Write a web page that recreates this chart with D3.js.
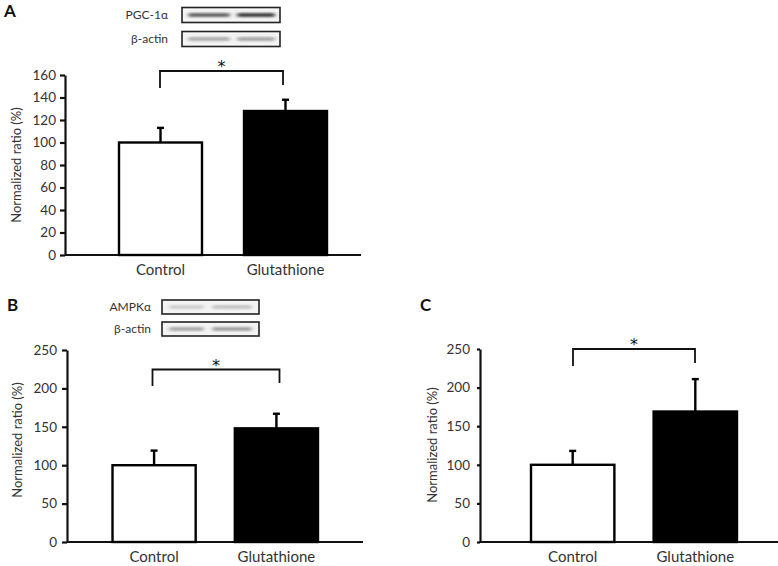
<!DOCTYPE html>
<html><head><meta charset="utf-8">
<script src="https://cdn.jsdelivr.net/npm/d3@7"></script>
<style>body{margin:0;background:#fff}svg{display:block}</style>
</head><body>
<svg id="c" width="778" height="566"></svg>
<script>
const categories = ["Control", "Glutathione"];
const valuesA = [100, 128];
const errorsA = [13, 10];
const ticksA = [0, 20, 40, 60, 80, 100, 120, 140, 160];
const valuesB = [100, 148];
const errorsB = [19, 19];
const ticksB = [0, 50, 100, 150, 200, 250];
const valuesC = [100, 169];
const errorsC = [18, 42];
const ticksC = [0, 50, 100, 150, 200, 250];
const blotLabelsA = ["PGC-1α", "β-actin"];
const blotBandsA = [[0.62, 0.8], [0.3, 0.33]];
const blotLabelsB = ["AMPKα", "β-actin"];
const blotBandsB = [[0.15, 0.2], [0.32, 0.35]];
const yTitle = "Normalized ratio (%)";

const svg = d3.select("#c");
const FONT = "Lato, 'Open Sans', sans-serif";
const defs = svg.append("defs");
defs.append("filter").attr("id","blur").attr("x","-30%").attr("y","-200%").attr("width","160%").attr("height","500%")
  .append("feGaussianBlur").attr("stdDeviation","2.2 1.0");

function panel(o) {
  const g = svg.append("g");
  const y = d3.scaleLinear().domain([0, o.ticks[o.ticks.length-1]]).range([o.y0, o.y1]);
  const x = d3.scaleBand().domain(categories).range(o.barRange).paddingInner(o.pad).paddingOuter(0);
  g.append("text").attr("x", o.letter[0]).attr("y", o.letter[1]).text(o.letterText)
    .attr("font-family", FONT).attr("font-weight", "bold").attr("font-size", 17).attr("fill", "#111");
  const ax = g.append("g").attr("transform", `translate(${o.axisX},0)`)
    .call(d3.axisLeft(y).tickValues(o.ticks).tickSize(o.tickLen).tickSizeOuter(0).tickPadding(o.tickPad));
  ax.select(".domain").attr("stroke", "#111").attr("stroke-width", 2.2);
  ax.selectAll(".tick line").attr("stroke", "#111").attr("stroke-width", 2.2);
  ax.selectAll(".tick text").attr("font-family", FONT).attr("font-size", 13.5).attr("fill", "#333");
  g.append("line").attr("x1", o.axisX).attr("x2", o.baseEnd).attr("y1", y(0)).attr("y2", y(0))
    .attr("stroke", "#111").attr("stroke-width", 2.2);
  const data = categories.map((c, i) => ({c, v: o.values[i], e: o.errors[i], i}));
  g.selectAll(".bar").data(data).join("rect")
    .attr("x", d => x(d.c)).attr("width", x.bandwidth())
    .attr("y", d => y(d.v)).attr("height", d => y(0) - y(d.v))
    .attr("fill", d => d.i === 0 ? "#fff" : "#000")
    .attr("stroke", "#000").attr("stroke-width", 2.4);
  g.selectAll(".err").data(data).join("line")
    .attr("x1", d => x(d.c) + x.bandwidth()/2).attr("x2", d => x(d.c) + x.bandwidth()/2)
    .attr("y1", d => y(d.v)).attr("y2", d => y(d.v + d.e))
    .attr("stroke", "#000").attr("stroke-width", 2.4);
  g.selectAll(".cap").data(data).join("line")
    .attr("x1", d => x(d.c) + x.bandwidth()/2 - 3.5).attr("x2", d => x(d.c) + x.bandwidth()/2 + 3.5)
    .attr("y1", d => y(d.v + d.e)).attr("y2", d => y(d.v + d.e))
    .attr("stroke", "#000").attr("stroke-width", 2.4);
  g.selectAll(".cat").data(data).join("text")
    .attr("x", d => x(d.c) + x.bandwidth()/2).attr("y", o.catY)
    .attr("text-anchor", "middle").attr("font-family", FONT).attr("font-size", 15).attr("fill", "#333")
    .text(d => d.c);
  g.append("text").attr("transform", `translate(${o.titleX},${o.titleY}) rotate(-90)`)
    .attr("text-anchor", "middle").attr("font-family", FONT).attr("font-size", o.titleSize).attr("fill", "#333")
    .text(yTitle);
  const b = o.bracket;
  g.append("path").attr("d", `M${b.x1},${b.yl}V${b.y}H${b.x2}V${b.yr}`)
    .attr("fill", "none").attr("stroke", "#111").attr("stroke-width", 1.8);
  g.append("text").attr("x", (b.x1 + b.x2)/2).attr("y", b.y - 8 + 9).attr("text-anchor", "middle")
    .attr("font-family", "'DejaVu Sans', sans-serif").attr("font-size", 16).attr("fill", "#111").text("*");
  if (o.blot) {
    const bl = o.blot;
    bl.labels.forEach((lab, k) => {
      const top = bl.tops[k];
      g.append("text").attr("x", bl.labelX).attr("y", top + bl.h/2 + 4).attr("text-anchor", "end")
        .attr("font-family", FONT).attr("font-size", 12).attr("fill", "#333").text(lab);
      g.append("rect").attr("x", bl.x).attr("y", top).attr("width", bl.w).attr("height", bl.h)
        .attr("fill", "#f4f4f4").attr("stroke", "#222").attr("stroke-width", 1.6);
      bl.bands[k].forEach((inten, j) => {
        const bx = bl.bandX[j];
        const c = Math.round(240 - 220 * inten);
        g.append("rect").attr("x", bx[0]).attr("y", top + bl.h/2 - 2).attr("width", bx[1]-bx[0]).attr("height", 4)
          .attr("rx", 2)
          .attr("fill", `rgb(${c},${c},${c})`).attr("filter", "url(#blur)");
      });
    });
  }
}

panel({letterText:"A", letter:[4,17], values:valuesA, errors:errorsA, ticks:ticksA,
  y0:255, y1:75, axisX:65, tickLen:5, tickPad:4, baseEnd:361, barRange:[119,327], pad:0.336,
  catY:275, titleX:21, titleY:165, titleSize:13,
  bracket:{x1:160, x2:283, y:71, yl:88, yr:85},
  blot:{labels:blotLabelsA, bands:blotBandsA, labelX:168, x:182, w:98, h:15, tops:[7.5,31.5], bandX:[[188,230],[237,275]]}});

panel({letterText:"B", letter:[7,311], values:valuesB, errors:errorsB, ticks:ticksB,
  y0:542, y1:350, axisX:67, tickLen:5, tickPad:5, baseEnd:363, barRange:[112.5,318], pad:0.32,
  catY:562, titleX:22, titleY:440, titleSize:13,
  bracket:{x1:152.5, x2:279.5, y:369.5, yl:386, yr:383},
  blot:{labels:blotLabelsB, bands:blotBandsB, labelX:151, x:162, w:97, h:14, tops:[300,322], bandX:[[169,204],[212,252]]}});

panel({letterText:"C", letter:[420,311], values:valuesC, errors:errorsC, ticks:ticksC,
  y0:542, y1:349, axisX:480, tickLen:3, tickPad:7, baseEnd:778, barRange:[531,737], pad:0.32,
  catY:562, titleX:437, titleY:445, titleSize:13,
  bracket:{x1:573, x2:695, y:349, yl:366, yr:363}});
</script>
</body></html>
